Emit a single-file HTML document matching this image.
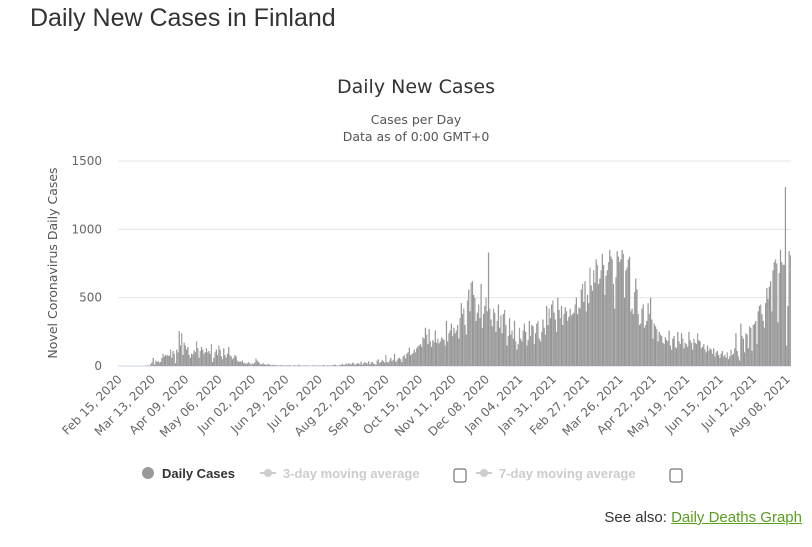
<!DOCTYPE html>
<html><head><meta charset="utf-8">
<style>
html,body{margin:0;padding:0;background:#fff;width:812px;height:547px;overflow:hidden;font-family:"Liberation Sans",sans-serif;}
#pageTitle{position:absolute;left:30px;top:4px;font-size:25px;color:#333;margin:0;font-weight:normal;}
#seeAlso{position:absolute;right:10px;top:509px;font-size:15px;color:#333;}
#seeAlso a{color:#5a9e1e;text-decoration:underline;}
svg{position:absolute;left:0;top:0;}
</style></head><body>
<h1 id="pageTitle">Daily New Cases in Finland</h1>
<svg id="chart" width="812" height="547" font-family="DejaVu Sans, sans-serif"></svg>
<div id="seeAlso">See also: <a>Daily Deaths Graph</a></div>
<script>
const startDate = "2020-02-15";
const dailyCases = [
0,0,0,0,0,0,0,0,0,0,0,0,0,0,0,0,0,0,0,0,1,0,2,3,5,0,15,
30,60,10,40,30,35,25,30,60,90,70,80,80,75,75,120,60,110,90,20,120,100,255,150,240,80,170,
150,120,140,80,60,90,85,115,100,180,130,60,110,140,120,90,100,130,100,110,90,160,30,60,100,120,80,
150,120,70,50,130,80,60,90,140,80,70,50,60,80,70,40,30,35,30,40,20,25,15,20,30,20,10,
20,15,25,55,40,30,20,10,15,20,12,8,10,15,10,5,8,6,10,4,6,5,3,5,8,2,4,
3,5,2,8,4,1,2,6,3,2,5,10,2,1,3,4,2,6,1,3,2,1,5,2,4,3,2,
4,3,2,6,8,2,1,5,3,4,2,6,7,10,3,5,2,8,10,15,6,12,18,10,22,15,12,
25,20,8,14,20,18,12,32,10,20,28,22,18,35,12,25,30,18,15,8,40,50,20,30,45,35,25,
80,30,25,40,60,35,45,90,30,40,55,60,50,30,70,80,55,90,100,135,80,85,95,120,100,130,145,
150,160,140,210,200,280,230,160,270,180,140,190,175,260,170,200,165,180,210,200,190,150,330,180,240,260,310,
220,280,240,260,300,200,350,460,380,420,300,230,480,560,400,610,620,520,500,330,390,450,350,600,280,380,440,
500,400,830,420,340,290,420,390,250,330,450,280,370,240,380,410,300,150,220,350,230,260,200,330,180,120,160,
280,200,180,260,310,250,150,190,330,220,300,290,160,240,310,330,200,180,250,340,280,230,440,300,420,350,450,
480,390,340,250,500,410,350,440,300,380,430,400,330,360,420,370,380,390,450,500,380,430,420,560,600,470,620,
400,520,460,720,590,550,700,610,780,740,600,640,700,820,740,520,660,700,760,850,800,780,600,420,650,840,800,
760,780,850,820,500,700,720,780,800,400,420,380,540,640,560,380,300,310,420,450,280,300,330,460,380,500,340,
200,310,290,270,180,250,230,220,170,160,210,190,180,260,150,120,200,220,140,130,250,180,160,240,200,130,170,
160,140,250,190,170,120,200,170,160,240,190,180,130,140,160,120,100,150,110,130,120,90,130,70,100,110,80,
60,90,110,70,80,60,100,50,70,120,80,90,130,240,110,70,40,310,220,200,100,240,230,130,290,280,110,
300,310,330,160,400,440,450,380,330,280,460,570,490,580,620,400,700,760,780,750,320,680,850,760,740,740,1310,
150,440,840,810
];
const yTicks = [0,500,1000,1500];
const xTickLabels = ["Feb 15, 2020","Mar 13, 2020","Apr 09, 2020","May 06, 2020","Jun 02, 2020","Jun 29, 2020","Jul 26, 2020","Aug 22, 2020","Sep 18, 2020","Oct 15, 2020","Nov 11, 2020","Dec 08, 2020","Jan 04, 2021","Jan 31, 2021","Feb 27, 2021","Mar 26, 2021","Apr 22, 2021","May 19, 2021","Jun 15, 2021","Jul 12, 2021","Aug 08, 2021"];
const xTickDayIdx = [0,27,54,81,108,135,162,189,216,243,270,297,324,351,378,405,432,459,486,513,540];

const NS="http://www.w3.org/2000/svg";
const svg=document.getElementById('chart');
const L=118,R=791,T=161,B=366,yMax=1500;
const n=dailyCases.length;
const step=(R-L)/n;
const xS=i=>L+(i+0.5)*step;
const yS=v=>B-(v/yMax)*(B-T);
function mk(tag,attrs,text){const e=document.createElementNS(NS,tag);for(const k in attrs)e.setAttribute(k,attrs[k]);if(text!==undefined)e.textContent=text;svg.appendChild(e);return e;}

let t=mk('text',{x:416,y:93,'text-anchor':'middle','font-size':19,fill:'#333'},'Daily New Cases');


t=mk('text',{x:416,y:124,'text-anchor':'middle','font-size':12.5,fill:'#555'},'Cases per Day');


t=mk('text',{x:416,y:141,'text-anchor':'middle','font-size':12.5,fill:'#555'},'Data as of 0:00 GMT+0');


t=mk('text',{x:0,y:0,'text-anchor':'middle','font-size':12.5,fill:'#555',transform:'translate(57,263) rotate(-90)'},'Novel Coronavirus Daily Cases');



yTicks.forEach(v=>{
  const g=mk('line',{x1:L,x2:R,y1:yS(v),y2:yS(v),stroke:v===0?'#ccd6eb':'#e6e6e6','stroke-width':1});
  
  
  const lb=mk('text',{x:102,y:yS(v)+4,'text-anchor':'end','font-size':12,fill:'#666'},String(v));
  
  
});

dailyCases.forEach((v,i)=>{
  const h=B-yS(v);
  if(h<=0)return;
  const r=mk('rect',{x:xS(i)-step*0.5,y:yS(v),width:step,height:h,fill:i%3===0?'#a4a4a4':'#969696'});
  
  
});

xTickLabels.forEach((s,k)=>{
  const x=xS(xTickDayIdx[k]);
  const lb=mk('text',{x:0,y:0,'text-anchor':'end','font-size':12,fill:'#666',transform:`translate(${x+4},${B+14}) rotate(-45)`},s);
  
  
});

// legend
let c=mk('circle',{cx:148,cy:473,r:6,fill:'#999'});


t=mk('text',{x:162,y:478,'font-size':13,'font-weight':'bold',fill:'#333','font-family':'Liberation Sans, sans-serif'},'Daily Cases');


[[260,'3-day moving average',454],[476,'7-day moving average',670]].forEach(([x,label,cbx],k)=>{
  const ln=mk('line',{x1:x,x2:x+16,y1:473,y2:473,stroke:'#ccc','stroke-width':2});
  
  
  const d=mk('circle',{cx:x+8,cy:473,r:4,fill:'#ccc'});
  
  
  const tx=mk('text',{x:x+23,y:478,'font-size':13,'font-weight':'bold',fill:'#ccc','font-family':'Liberation Sans, sans-serif'},label);
  
  
  const cb=mk('rect',{x:cbx,y:469,width:12,height:13,rx:2,fill:'#fff',stroke:'#555','stroke-width':1});
  
  
});
</script>
</body></html>
